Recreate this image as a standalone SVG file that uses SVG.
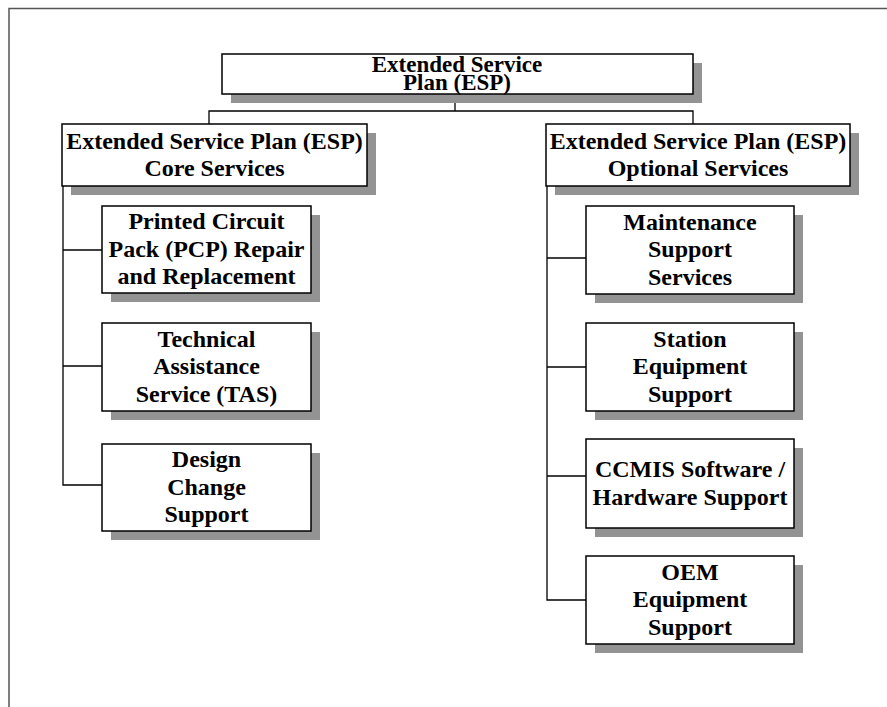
<svg xmlns="http://www.w3.org/2000/svg" width="887" height="707" viewBox="0 0 887 707">
<style>
.sh{fill:#939393}
.bx{fill:#fff;stroke:#000;stroke-width:1.5}
.t{font-family:"Liberation Serif","Times New Roman",serif;font-weight:bold;font-size:24px;text-anchor:middle;fill:#000}
.tt{font-size:23px}
.c{fill:none;stroke:#000;stroke-width:1.3}
.fr{fill:none;stroke:#555;stroke-width:1.5}
</style>
<rect width="887" height="707" fill="#fff"/>
<path class="fr" d="M9,707 V8.5 H887"/>
<g id="connectors">
<path class="c" d="M455,94 V111"/>
<path class="c" d="M209,124 V111 H693 V124"/>
<path class="c" d="M63,186 V485 H102"/>
<path class="c" d="M63,250 H102"/>
<path class="c" d="M63,366 H102"/>
<path class="c" d="M547,186 V600 H586"/>
<path class="c" d="M547,258 H586"/>
<path class="c" d="M547,367 H586"/>
<path class="c" d="M547,476 H586"/>
</g>
<g id="esp">
<rect class="sh" x="231" y="63" width="471" height="40"/>
<rect class="bx" x="222" y="54" width="471" height="40"/>
<text class="t tt" x="457" y="72">Extended Service</text>
<text class="t tt" x="457" y="90">Plan (ESP)</text>
</g>
<g id="core">
<rect class="sh" x="71" y="133" width="305" height="62"/>
<rect class="bx" x="62" y="124" width="305" height="62"/>
<text class="t" x="214.5" y="149">Extended Service Plan (ESP)</text>
<text class="t" x="214.5" y="176">Core Services</text>
</g>
<g id="optional">
<rect class="sh" x="555" y="133" width="304" height="62"/>
<rect class="bx" x="546" y="124" width="304" height="62"/>
<text class="t" x="698" y="149">Extended Service Plan (ESP)</text>
<text class="t" x="698" y="176">Optional Services</text>
</g>
<g id="pcp">
<rect class="sh" x="111" y="215" width="209" height="87"/>
<rect class="bx" x="102" y="206" width="209" height="87"/>
<text class="t" x="206.5" y="229">Printed Circuit</text>
<text class="t" x="206.5" y="256.5">Pack (PCP) Repair</text>
<text class="t" x="206.5" y="284">and Replacement</text>
</g>
<g id="tas">
<rect class="sh" x="111" y="332" width="209" height="88"/>
<rect class="bx" x="102" y="323" width="209" height="88"/>
<text class="t" x="206.5" y="346.5">Technical</text>
<text class="t" x="206.5" y="374">Assistance</text>
<text class="t" x="206.5" y="401.5">Service (TAS)</text>
</g>
<g id="design">
<rect class="sh" x="111" y="453" width="209" height="87"/>
<rect class="bx" x="102" y="444" width="209" height="87"/>
<text class="t" x="206.5" y="467">Design</text>
<text class="t" x="206.5" y="494.5">Change</text>
<text class="t" x="206.5" y="522">Support</text>
</g>
<g id="maintenance">
<rect class="sh" x="595" y="215" width="208" height="88"/>
<rect class="bx" x="586" y="206" width="208" height="88"/>
<text class="t" x="690" y="229.5">Maintenance</text>
<text class="t" x="690" y="257">Support</text>
<text class="t" x="690" y="284.5">Services</text>
</g>
<g id="station">
<rect class="sh" x="595" y="332" width="208" height="88"/>
<rect class="bx" x="586" y="323" width="208" height="88"/>
<text class="t" x="690" y="346.5">Station</text>
<text class="t" x="690" y="374">Equipment</text>
<text class="t" x="690" y="401.5">Support</text>
</g>
<g id="ccmis">
<rect class="sh" x="595" y="448" width="208" height="89"/>
<rect class="bx" x="586" y="439" width="208" height="89"/>
<text class="t" x="690" y="477">CCMIS Software /</text>
<text class="t" x="690" y="504.5">Hardware Support</text>
</g>
<g id="oem">
<rect class="sh" x="595" y="565" width="208" height="88"/>
<rect class="bx" x="586" y="556" width="208" height="88"/>
<text class="t" x="690" y="579.5">OEM</text>
<text class="t" x="690" y="607">Equipment</text>
<text class="t" x="690" y="634.5">Support</text>
</g>
</svg>
